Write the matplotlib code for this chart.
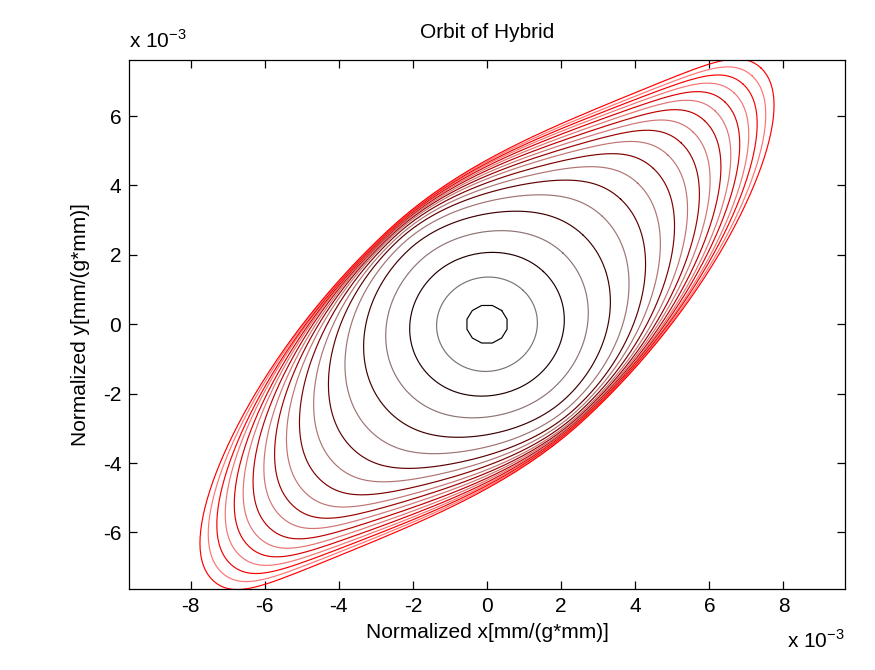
import numpy as np
import matplotlib
matplotlib.use("Agg")
import matplotlib.pyplot as plt

plt.rcParams['font.family'] = ['Liberation Sans', 'DejaVu Sans']
plt.rcParams['mathtext.fontset'] = 'custom'
plt.rcParams['mathtext.rm'] = 'Liberation Sans'
plt.rcParams['axes.unicode_minus'] = False

# ---- data (units of 1e-3) ----
# each closed orbit: semi-axis along the diagonal, half-width across it,
# how much one side of each end is drawn in, and how much both ends taper
diag_semi = [0.56, 1.38, 2.15, 2.90, 3.65, 4.40, 5.10, 5.75, 6.35, 6.90, 7.40, 7.85,
             8.30, 8.70, 9.07, 9.43, 9.78, 10.12, 10.45]
anti_semi = [0.56, 1.34, 2.02, 2.57, 3.01, 3.25, 3.40, 3.48, 3.55, 3.60, 3.64, 3.67,
             3.70, 3.72, 3.74, 3.76, 3.77, 3.79, 3.80]
pinch = [0.0, 0.0, 0.02, 0.04, 0.07, 0.10, 0.13, 0.16, 0.19, 0.21, 0.23, 0.24,
         0.25, 0.26, 0.26, 0.27, 0.27, 0.28, 0.28]
taper = [0.0, 0.0, 0.0, 0.01, 0.02, 0.04, 0.06, 0.08, 0.09, 0.10, 0.11, 0.12,
         0.13, 0.13, 0.14, 0.14, 0.15, 0.15, 0.15]
n_vertices = [12] + [160] * 18

x_ticks = [-8, -6, -4, -2, 0, 2, 4, 6, 8]
y_ticks = [-6, -4, -2, 0, 2, 4, 6]
x_lim = (-9.66, 9.66)
y_lim = (-7.63, 7.63)

title = "Orbit of Hybrid"
x_label = "Normalized x[mm/(g*mm)]"
y_label = "Normalized y[mm/(g*mm)]"

W, H = 875, 670
FS = 15
fig = plt.figure(figsize=(W / 100, H / 100), dpi=100)
ax = fig.add_axes([129 / W, (H - 589) / H, 716 / W, 529.5 / H])

N = len(diag_semi)
for k in range(N):
    t = np.linspace(0, 2 * np.pi, n_vertices[k] + 1)
    a, b = diag_semi[k], anti_semi[k]
    squeeze = (pinch[k] * np.clip(np.sin(2 * t), 0, None) * np.abs(np.cos(t))
               + taper[k] * np.cos(t) ** 2)
    u = a * np.cos(t)
    v = b * np.sin(t) * (1 - squeeze)
    x = (u - v) / np.sqrt(2)
    y = (u + v) / np.sqrt(2)
    r = k / (N - 1)
    col = np.array([min(1.0, 1.1 * r), 0.0, 0.0])
    if k % 2 == 1:
        col = col + (1 - col) * 0.45
    ax.plot(x, y, color=col, lw=0.85)

ax.set_xlim(*x_lim)
ax.set_ylim(*y_lim)
ax.set_xticks(x_ticks)
ax.set_yticks(y_ticks)
ax.tick_params(direction='in', length=6, width=0.9, top=True, right=True,
               labelsize=FS, pad=5.6)
for s in ax.spines.values():
    s.set_linewidth(0.9)

ax.text(0.5, 1 + (59.5 - 33) / 529.5, title, transform=ax.transAxes,
        ha='center', va='center', fontsize=FS)
ax.set_xlabel(x_label, fontsize=FS)
ax.xaxis.set_label_coords(0.5, -(633 - 589) / 529.5)
ax.xaxis.label.set_va('center')
ax.set_ylabel(y_label, fontsize=FS)
ax.yaxis.set_label_coords(-(129 - 80) / 716, 0.5)
ax.yaxis.label.set_va('center')

ax.text(0.0, 1 + (59.5 - 48) / 529.5, r'x 10$^{-3}$', transform=ax.transAxes,
        ha='left', va='baseline', fontsize=FS)
ax.text(1.0, -(648 - 589) / 529.5, r'x 10$^{-3}$', transform=ax.transAxes,
        ha='right', va='baseline', fontsize=FS)

fig.savefig("out.png", dpi=100)
